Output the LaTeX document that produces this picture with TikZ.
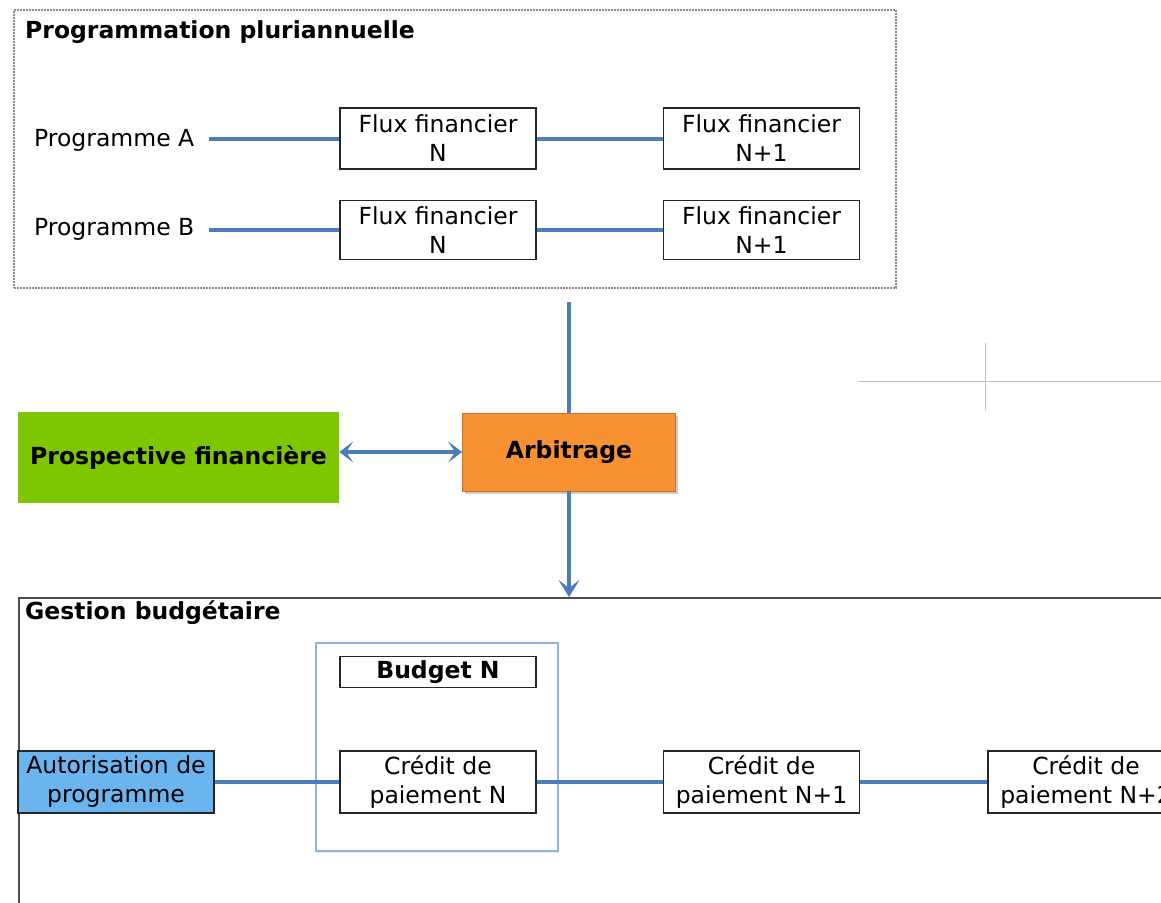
\documentclass[tikz,border=0pt]{standalone}
\usepackage{fontspec}
\setmainfont{DejaVu Sans}
\usetikzlibrary{arrows.meta, positioning, shadows}

\definecolor{linkblue}{HTML}{4A7EBB}
\definecolor{prospgreen}{HTML}{7DC600}
\definecolor{arbitorange}{HTML}{F79131}
\definecolor{autoblue}{HTML}{6BB5EF}
\definecolor{budgetblue}{HTML}{8DB3E2}

\tikzset{
  txt/.style={font=\fontsize{23.5}{29}\selectfont, inner sep=0pt},
  heading/.style={font=\bfseries\fontsize{23.5}{29}\selectfont, anchor=west, inner sep=0pt},
  progname/.style={txt, anchor=west},
  flux/.style={txt, draw=black!85, line width=1.5pt, fill=white, align=center,
    minimum width=196pt, minimum height=61pt},
  budget/.style={flux, font=\bfseries\fontsize{23.5}{29}\selectfont, minimum height=31pt},
  decision/.style={txt, font=\bfseries\fontsize{23.5}{29}\selectfont, align=center},
  panel/.style={inner sep=0pt},
  link/.style={draw=linkblue, line width=4pt},
  tip/.style={-{Stealth[length=17pt, width=21pt, inset=8pt]}}
}

\begin{document}
\begin{tikzpicture}[x=1pt, y=-1pt, node distance=126pt]
\clip (0,0) rectangle (1161,902);
\fill[white] (0,0) rectangle (1161,902);

% Programmation pluriannuelle
\node[panel, draw=black!45, densely dotted, line width=2pt,
  minimum width=882pt, minimum height=278pt] (plurian) at (455,149) {};
\node[heading] (plurtitle) at (25,32) {Programmation pluriannuelle};

\node[flux] (fluxA1) at (438,138.5) {Flux financier\\N};
\node[flux, right=126pt of fluxA1] (fluxA2) {Flux financier\\N+1};
\node[flux, below=30pt of fluxA1, minimum height=59pt] (fluxB1) {Flux financier\\N};
\node[flux, right=126pt of fluxB1, minimum height=59pt] (fluxB2) {Flux financier\\N+1};

\node[progname] (progA) at (34,140) {Programme A};
\node[progname] (progB) at (34,229) {Programme B};

\draw[link, shorten <=15pt] (progA.east |- fluxA1) -- (fluxA1);
\draw[link] (fluxA1) -- (fluxA2);
\draw[link, shorten <=15pt] (progB.east |- fluxB1) -- (fluxB1);
\draw[link] (fluxB1) -- (fluxB2);

% Arbitrage
\node[decision, fill=prospgreen, minimum width=321pt, minimum height=91pt]
  (prosp) at (178.5,457.5) {Prospective financière};
\node[decision, fill=arbitorange, draw=arbitorange!80!black, line width=0.8pt,
  drop shadow={shadow xshift=2pt, shadow yshift=-3pt, fill=black!40},
  minimum width=213pt, minimum height=78pt] (arbit) at (569,452) {Arbitrage};

\draw[link, shorten <=13pt] (arbit.north |- plurian.south) -- (arbit.north);
\draw[link, {Stealth[length=14pt, width=21pt, inset=7pt]}-{Stealth[length=14pt, width=21pt, inset=7pt]}]
  (prosp.east |- arbit.west) -- (arbit.west);

% Gestion budgetaire
\node[panel, draw=black!70, line width=1.5pt, anchor=north west,
  minimum width=1300pt, minimum height=400pt] (gestion) at (18,597) {};
\node[heading] (gesttitle) at (25,613) {Gestion budgétaire};

\draw[link, tip] (arbit.south) -- (arbit.south |- gestion.north);

\node[panel, draw=budgetblue, line width=2pt,
  drop shadow={shadow xshift=1pt, shadow yshift=-2pt, fill=black!20},
  fill=white, minimum width=242pt, minimum height=208pt] (budgetzone) at (437,747) {};
\node[flux, minimum height=62pt] (creditN) at (438,782) {Crédit de\\paiement N};
\node[budget, above=62pt of creditN] (budgetN) {Budget N};
\node[flux, fill=autoblue, minimum height=62pt] (autor) at (116,782) {Autorisation de\\programme};
\node[flux, right=126pt of creditN, minimum height=62pt] (creditN1) {Crédit de\\paiement N+1};
\node[flux, right=127pt of creditN1, minimum height=62pt] (creditN2) {Crédit de\\paiement N+2};

\draw[link] (autor) -- (creditN);
\draw[link] (creditN) -- (creditN1);
\draw[link] (creditN1) -- (creditN2);

% repere
\draw[black!25, line width=1pt] (858,381) -- (1161,381);
\draw[black!25, line width=1pt] (985,343) -- (985,410);
\end{tikzpicture}
\end{document}
